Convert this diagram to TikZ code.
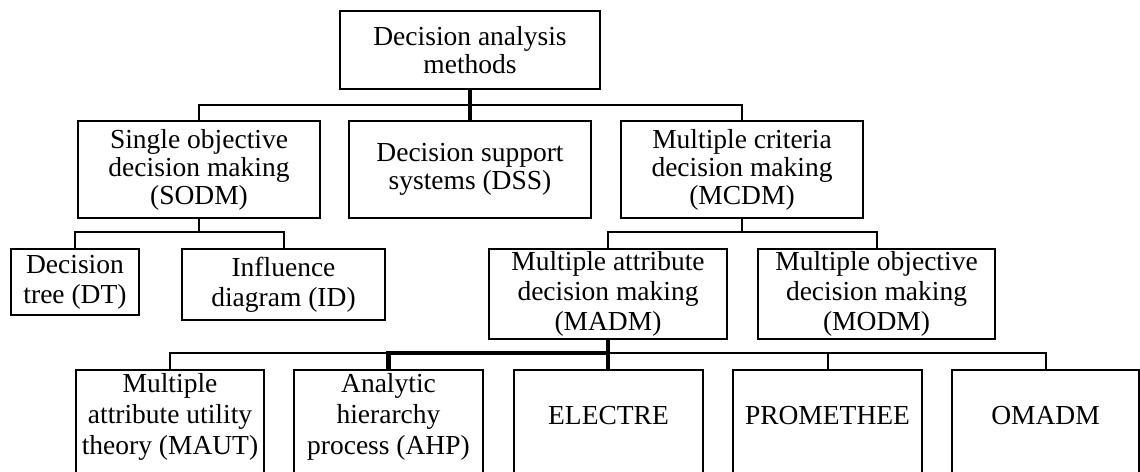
\documentclass[tikz,border=0pt]{standalone}
\usepackage{fontspec}
\setmainfont{Liberation Serif}
\begin{document}
\begin{tikzpicture}[x=1pt,y=-1pt,
  box/.style={draw, line width=2.4pt, align=center, inner sep=0pt, anchor=north},
  lbl/.style={align=center, inner sep=0pt},
  fA/.style={font=\fontsize{27.5}{28}\selectfont},
  fB/.style={font=\fontsize{27.5}{30}\selectfont},
  fC/.style={font=\fontsize{27.5}{31}\selectfont},
  link/.style={line width=2pt},
  mainlink/.style={line width=4.6pt},
]
\useasboundingbox (0,0) rectangle (1140,471);
\clip (0,0) rectangle (1140,471);

% root
\node[box, fA, minimum width=260, minimum height=78] (top) at (470,10) {Decision analysis\\methods};

% second level
\node[box, fA, minimum width=242, minimum height=97] (sodm) at (199,120) {Single objective\\decision making\\(SODM)};
\node[box, fA, minimum width=242, minimum height=97] (dss) at (470,120) {Decision support\\systems (DSS)};
\node[box, fA, minimum width=242, minimum height=97] (mcdm) at (742,120) {Multiple criteria\\decision making\\(MCDM)};

% third level
\node[box, fB, minimum width=128, minimum height=66] (dt) at (75,248) {Decision\\tree (DT)};
\node[box, fB, minimum width=203, minimum height=71] (id) at (283.5,248) {Influence\\diagram (ID)};
\node[box, fB, minimum width=238, minimum height=90] (madm) at (608,248) {Multiple attribute\\decision making\\(MADM)};
\node[box, fB, minimum width=237, minimum height=90] (modm) at (876.5,248) {Multiple objective\\decision making\\(MODM)};

% fourth level: boxes run past the lower edge
\node[box, minimum width=188, minimum height=130] (maut) at (170,369) {};
\node[box, minimum width=189, minimum height=130] (ahp) at (388.5,369) {};
\node[box, minimum width=189, minimum height=130] (electre) at (608.5,369) {};
\node[box, minimum width=189, minimum height=130] (prom) at (827.5,369) {};
\node[box, minimum width=187, minimum height=130] (omadm) at (1045.5,369) {};

\node[lbl, fC] (maut-t) at ([yshift=-48pt]maut.north) {Multiple\\attribute utility\\theory (MAUT)};
\node[lbl, fC] (ahp-t) at ([yshift=-48pt]ahp.north) {Analytic\\hierarchy\\process (AHP)};
\node[lbl, fC] (electre-t) at ([yshift=-47pt]electre.north) {ELECTRE};
\node[lbl, fC] (prom-t) at ([yshift=-47pt]prom.north) {PROMETHEE};
\node[lbl, fC] (omadm-t) at ([yshift=-47pt]omadm.north) {OMADM};

% bus lines
\coordinate (b1) at (0,105);
\coordinate (b2) at (0,232);
\coordinate (b3) at (0,353);

% root to second level
\draw[link] (sodm.north) -- (sodm.north |- b1) -- (mcdm.north |- b1) -- (mcdm.north);
\draw[mainlink] (top.south) -- (dss.north);

% SODM branch
\draw[link] (sodm.south) -- (sodm.south |- b2);
\draw[link] (dt.north) -- (dt.north |- b2) -- (id.north |- b2) -- (id.north);

% MCDM branch
\draw[link] (mcdm.south) -- (mcdm.south |- b2);
\draw[link] (madm.north) -- (madm.north |- b2) -- (modm.north |- b2) -- (modm.north);

% MADM branch
\draw[link] (maut.north) -- (maut.north |- b3) -- (omadm.north |- b3) -- (omadm.north);
\draw[link] (prom.north) -- (prom.north |- b3);
\draw[mainlink] (madm.south) -- (madm.south |- electre.north);
\draw[mainlink] (ahp.north) -- (ahp.north |- b3) -- (madm.south |- b3);
\end{tikzpicture}
\end{document}
